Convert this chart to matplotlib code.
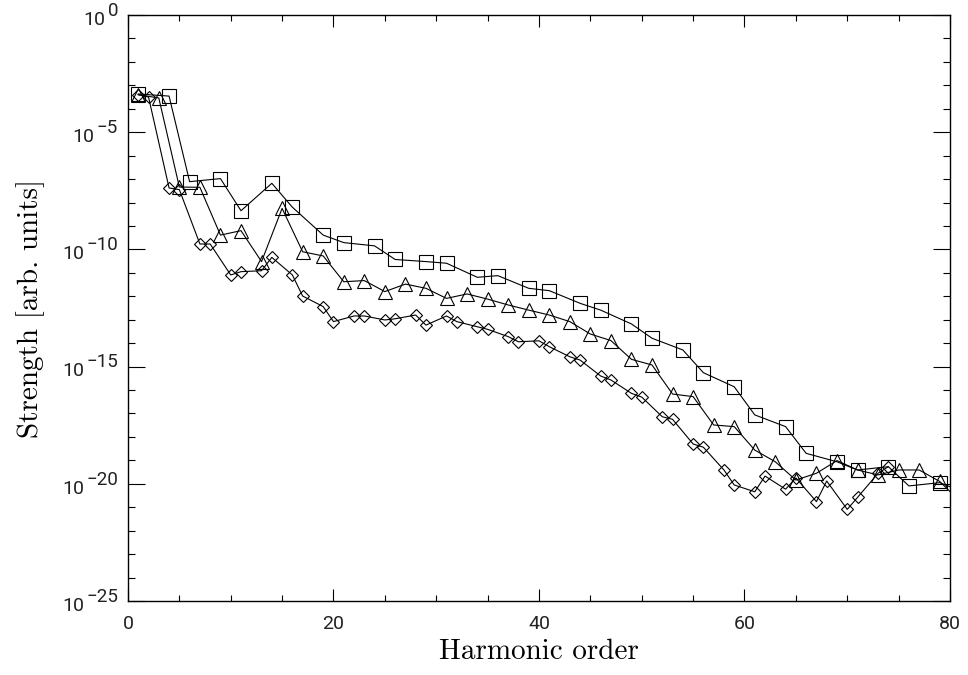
import numpy as np
import matplotlib
matplotlib.use("Agg")
import matplotlib.pyplot as plt
import matplotlib.transforms as mtransforms
from matplotlib.ticker import FixedLocator, NullFormatter

# harmonic orders kept by each symmetry (5k+-1, 2k+-1, 3k+-1)
sq_x = [1, 4, 6, 9, 11, 14, 16, 19, 21, 24, 26, 29, 31, 34, 36, 39, 41, 44, 46, 49,
        51, 54, 56, 59, 61, 64, 66, 69, 71, 74, 76, 79, 81]
# log10 of strength
sq_exp = [-3.37, -3.46, -7.11, -6.98, -8.35, -7.18, -8.2, -9.39, -9.71, -9.85,
          -10.43, -10.52, -10.59, -11.19, -11.12, -11.66, -11.76, -12.3, -12.59, -13.18,
          -13.79, -14.29, -15.26, -15.86, -17.06, -17.56, -18.7, -19.06, -19.41, -19.27,
          -20.09, -19.95, -20.3]

tri_x = [1, 3, 5, 7, 9, 11, 13, 15, 17, 19, 21, 23, 25, 27, 29, 31, 33, 35, 37, 39,
         41, 43, 45, 47, 49, 51, 53, 55, 57, 59, 61, 63, 65, 67, 69, 71, 73, 75, 77, 79, 81]
tri_exp = [-3.4, -3.54, -7.34, -7.35, -9.39, -9.2, -10.52, -8.25, -10.1, -10.28,
           -11.38, -11.33, -11.8, -11.48, -11.66, -12.09, -11.9, -12.12, -12.37, -12.59,
           -12.8, -13.08, -13.61, -13.89, -14.69, -14.93, -16.17, -16.28, -17.49, -17.56,
           -18.56, -19.06, -19.84, -19.55, -19.01, -19.41, -19.62, -19.41, -19.41, -19.9,
           -20.76]

dia_x = [1, 2, 4, 5, 7, 8, 10, 11, 13, 14, 16, 17, 19, 20, 22, 23, 25, 26, 28, 29,
         31, 32, 34, 35, 37, 38, 40, 41, 43, 44, 46, 47, 49, 50, 52, 53, 55, 56, 58, 59,
         61, 62, 64, 65, 67, 68, 70, 71, 73, 74]
dia_exp = [-3.4, -3.5, -7.38, -7.45, -9.77, -9.77, -11.09, -10.95, -10.91, -10.34,
           -11.09, -11.99, -12.44, -13.08, -12.84, -12.84, -13.01, -12.96, -12.8, -13.23,
           -12.84, -13.08, -13.3, -13.41, -13.72, -13.94, -13.9, -14.15, -14.58, -14.72,
           -15.4, -15.57, -16.14, -16.3, -17.14, -17.25, -18.3, -18.44, -19.41, -20.05,
           -20.34, -19.67, -20.23, -19.75, -20.76, -19.88, -21.09, -20.58, -19.55, -19.27]

x_major = [0, 20, 40, 60, 80]
y_exps = [0, -5, -10, -15, -20, -25]

plt.rcParams['font.family'] = ['Roboto', 'DejaVu Sans']
plt.rcParams['font.size'] = 13

fig = plt.figure(figsize=(9.68, 6.75), dpi=100)
ax = fig.add_axes([0.1322, 0.1096, 0.8492, 0.8682])

estilo = dict(color='black', lw=0.8, mfc='none', mec='black', mew=0.8)
ax.plot(sq_x, 10.0 ** np.array(sq_exp), marker='s', ms=9.8, **estilo)
ax.plot(tri_x, 10.0 ** np.array(tri_exp), marker='^', ms=10, **estilo)
ax.plot(dia_x, 10.0 ** np.array(dia_exp), marker='D', ms=6.6, **estilo)

ax.set_yscale('log')
ax.set_xlim(0, 80)
ax.set_ylim(1e-25, 1)

ax.set_xticks(x_major)
ax.xaxis.set_minor_locator(FixedLocator(np.arange(0, 81, 5)))
ax.set_yticks([10.0 ** e for e in y_exps])
ax.set_yticklabels([])
ax.yaxis.set_minor_locator(FixedLocator([10.0 ** -k for k in range(26)]))
ax.yaxis.set_minor_formatter(NullFormatter())

ax.tick_params(which='both', direction='in', top=True, right=True, color='black')
ax.tick_params(axis='x', which='major', length=8.5, width=0.8, pad=10, labelsize=14,
               labelcolor='#222222')
ax.tick_params(axis='x', which='minor', length=4.3, width=0.8)
ax.tick_params(axis='y', which='major', length=12, width=0.8)
ax.tick_params(axis='y', which='minor', length=5, width=0.8)
for s in ax.spines.values():
    s.set_linewidth(1.0)

# etiquetas del eje y estilo IDL: "10" con exponente grande
trans = mtransforms.blended_transform_factory(ax.transAxes, ax.transData)
for e in y_exps:
    exp_txt = str(e).replace('-', '\u2212')
    sup = ax.text(-0.012, 10.0 ** (e - 0.2), exp_txt, transform=trans, ha='right',
                  va='bottom', fontsize=13.5, color='#222222')
    ax.annotate('10', xy=(0, 0), xycoords=sup, xytext=(-1.5, 0), textcoords='offset points',
                ha='right', va='center', fontsize=14, color='#222222')

ax.set_xlabel('Harmonic order', fontfamily='cmr10', fontsize=21, labelpad=4)
ax.set_ylabel('Strength [arb. units]', fontfamily='cmr10', fontsize=21)
ax.yaxis.set_label_coords(-0.101, 0.5)

plt.savefig('out.png', dpi=100)
